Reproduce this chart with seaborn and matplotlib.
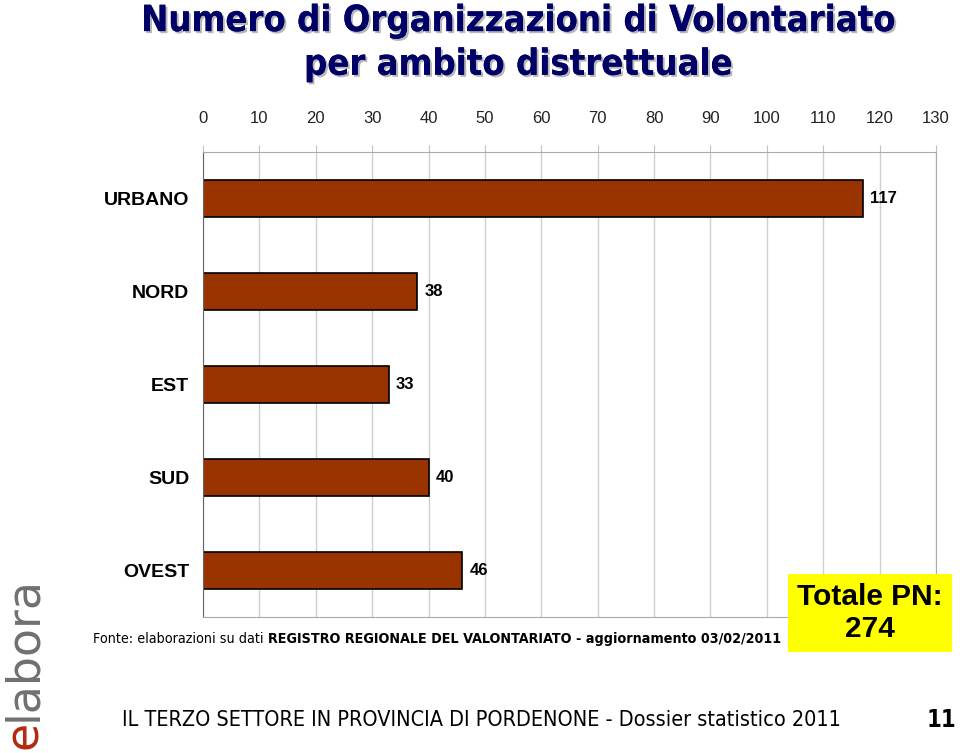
import matplotlib
matplotlib.use("Agg")
import matplotlib.pyplot as plt
import matplotlib.patheffects as pe
import seaborn as sns
import pandas as pd

# Dati
ambiti = ["URBANO", "NORD", "EST", "SUD", "OVEST"]
organizzazioni = [117, 38, 33, 40, 46]
tick_x = list(range(0, 140, 10))
totale = 274

sns.set_style("white")
plt.rcParams["font.family"] = ["Liberation Sans", "DejaVu Sans"]
plt.rcParams["text.color"] = "black"

df = pd.DataFrame({"ambito": ambiti, "n": organizzazioni})

fig = plt.figure(figsize=(9.6, 7.53), dpi=100)
ax = fig.add_axes([0.2115, 0.1806, 0.7635, 0.6175])

sns.barplot(data=df, x="n", y="ambito", orient="h", color="#993300",
            saturation=1, width=0.4, edgecolor="black", linewidth=1.2, ax=ax)

ax.set_xlim(0, 130)
ax.set_xticks(tick_x)
ax.xaxis.tick_top()
ax.tick_params(axis="x", length=5, color="#c0c0c0", labelsize=12,
               labelcolor="#222222", pad=14)
ax.grid(axis="x", color="#cfcfcf", linewidth=1)
ax.set_axisbelow(True)

# tacche tra le categorie
ax.set_yticks([i + 0.5 for i in range(len(ambiti) - 1)], minor=True)
ax.tick_params(axis="y", which="minor", length=5, color="#c0c0c0")
ax.tick_params(axis="y", which="major", length=0, pad=10, labelcolor="black")
for lab in ax.get_yticklabels():
    lab.set_fontsize(14)
    lab.set_fontweight("bold")
ax.set_xlabel("")
ax.set_ylabel("")

for side in ["top", "right", "bottom"]:
    ax.spines[side].set_color("#aaaaaa")
ax.spines["left"].set_color("#666666")

ax.bar_label(ax.containers[0], padding=5, fontsize=12, fontweight="bold")

narrow = dict(family=["DejaVu Sans"], fontstretch="condensed")

# Titolo
ombra = [pe.withSimplePatchShadow(offset=(1.5, -1.5), shadow_rgbFace="#888888", alpha=0.6),
         pe.Normal()]
fig.text(0.54, 0.972, "Numero di Organizzazioni di Volontariato",
         ha="center", va="center", fontsize=26, fontweight="bold",
         color="#000066", path_effects=ombra, **narrow)
fig.text(0.54, 0.914, "per ambito distrettuale",
         ha="center", va="center", fontsize=26, fontweight="bold",
         color="#000066", path_effects=ombra, **narrow)

# Fonte
t1 = fig.text(0.097, 0.152, "Fonte: elaborazioni su dati ", fontsize=10.3,
              va="center", **narrow)
ax.annotate("REGISTRO REGIONALE DEL VALONTARIATO - aggiornamento 03/02/2011",
            xy=(1, 0), xycoords=t1, ha="left", va="bottom", fontsize=10.3,
            fontweight="bold", annotation_clip=False, **narrow)

# Totale
fig.text(0.9065, 0.186, "Totale PN:\n%d" % totale, ha="center", va="center",
         fontsize=21.5, fontweight="bold", linespacing=1.2,
         bbox=dict(boxstyle="square,pad=0.3", facecolor="#ffff00", edgecolor="none"))

# Piede
fig.text(0.5016, 0.044, "IL TERZO SETTORE IN PROVINCIA DI PORDENONE - Dossier statistico 2011",
         ha="center", va="center", fontsize=15.5, **narrow)
fig.text(0.981, 0.044, "11", ha="center", va="center", fontsize=17, fontweight="bold",
         **narrow)

# logo
e = fig.text(0.025, 0.005, "e", rotation=90, ha="center", va="bottom",
             fontsize=33, color="#b22a10", family=["DejaVu Sans"])
ax.annotate("labora", xy=(0.5, 1), xycoords=e, rotation=90, ha="center", va="bottom",
            fontsize=33, color="#707070", family=["DejaVu Sans"], annotation_clip=False)

fig.savefig("out.png", dpi=100)
